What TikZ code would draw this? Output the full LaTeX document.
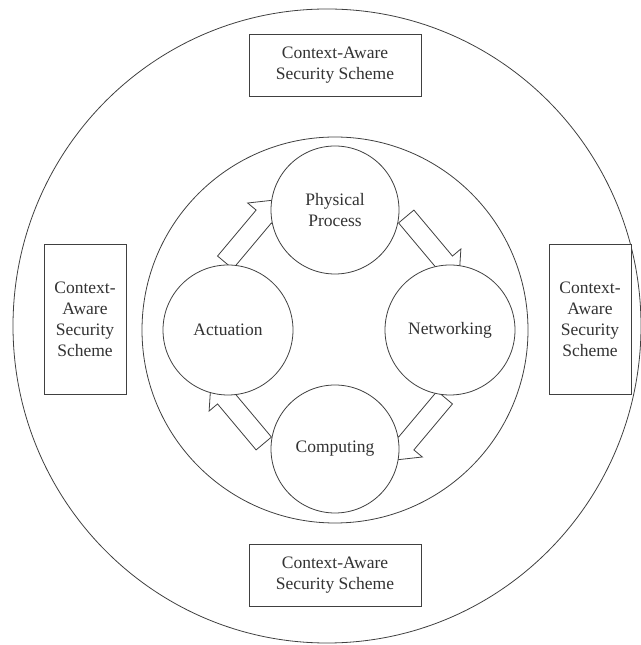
\documentclass[tikz,border=0pt]{standalone}
\usepackage{fontspec}
\setmainfont{Liberation Serif}
\usetikzlibrary{shapes.geometric,calc}
\begin{document}
\begin{tikzpicture}[x=1pt,y=1pt,
  line/.style={draw=black!75, line width=0.8pt},
  stage/.style={line, circle, fill=white, minimum size=128pt, inner sep=0pt, align=center,
                font=\fontsize{17.5}{21}\selectfont, text=black!80},
  scheme/.style={line, rectangle, fill=white, inner sep=0pt, align=center,
                 font=\fontsize{17.5}{21}\selectfont, text=black!80},
  % hollow block arrow, centred on the origin and pointing along +x
  blockarrow/.pic={
    \draw[line, fill=white, line join=miter]
      (-30,-10) -- (30,-10) -- (30,-21) -- (52,0) -- (30,21)
      -- (30,10) -- (-30,10) -- cycle;
  }]
\useasboundingbox (0,0) rectangle (640,645);

% outer ring and inner ring
\node[line, ellipse, minimum width=628pt, minimum height=634pt, inner sep=0pt] (outer) at (327,319) {};
\node[line, circle, minimum size=386pt, inner sep=0pt] (inner) at (335,315) {};

% block arrows between the four stages (drawn first, stages cover their ends)
\pic[rotate=50]  at ($(inner.center)+(135:128)$) {blockarrow};
\pic[rotate=-50] at ($(inner.center)+(45:128)$)  {blockarrow};
\pic[rotate=230] at ($(inner.center)+(-45:128)$) {blockarrow};
\pic[rotate=130] at ($(inner.center)+(-135:128)$) {blockarrow};

% the four stages
\node[stage] (pp)  at (335,435) {Physical\\Process};
\node[stage, minimum size=130pt] (act) at (228,315) {Actuation};
\node[stage, minimum size=130pt] (net) at (450,315) {Networking};
\node[stage] (comp) at (335,196) {Computing};

% security scheme boxes
\node[scheme, minimum width=172pt, minimum height=62pt] (stop) at (335,580) {Context-Aware\\Security Scheme};
\node[scheme, minimum width=172pt, minimum height=62pt] (sbot) at (335,70) {Context-Aware\\Security Scheme};
\node[scheme, minimum width=82pt, minimum height=150pt] (sleft) at (85,326) {Context-\\Aware\\Security\\Scheme};
\node[scheme, minimum width=82pt, minimum height=150pt] (sright) at (590,326) {Context-\\Aware\\Security\\Scheme};
\end{tikzpicture}
\end{document}
